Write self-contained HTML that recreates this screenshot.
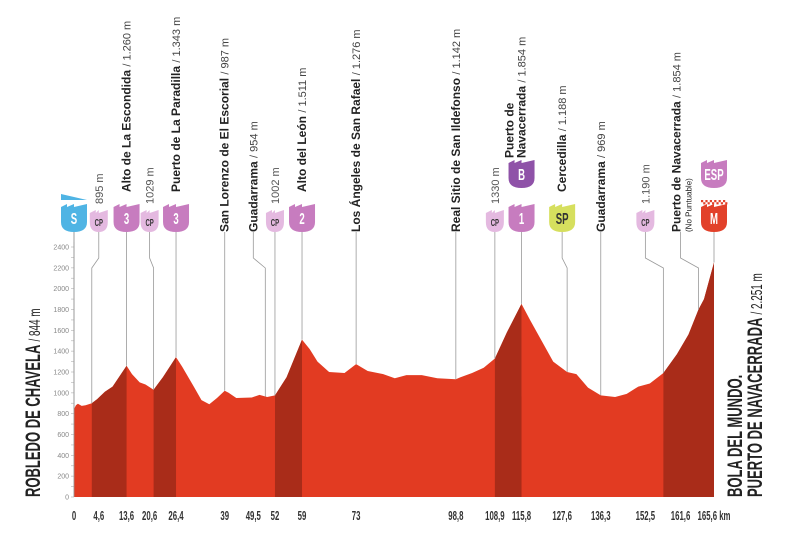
<!DOCTYPE html>
<html><head><meta charset="utf-8"><style>
html,body{margin:0;padding:0;background:#fff;}
svg{display:block;font-family:"Liberation Sans",sans-serif;}
</style></head><body>
<svg id="chart" width="800" height="541" viewBox="0 0 800 541">
<g id="axis"></g>
<g id="profile"></g>
<g id="marks"></g>
<g id="xaxis"></g>
<g transform="translate(40,497) rotate(-90)">
<text x="0" y="0" font-size="21" font-weight="bold" transform="scale(0.62,1)" fill="#222">ROBLEDO DE CHAVELA <tspan font-weight="normal" font-size="16">/ 844 m</tspan></text>
</g>
<g transform="translate(762,497) rotate(-90)">
<text x="0" y="-20" font-size="21" font-weight="bold" transform="scale(0.62,1)" fill="#222">BOLA DEL MUNDO.</text>
<text x="0" y="0" font-size="21" font-weight="bold" transform="scale(0.62,1)" fill="#222">PUERTO DE NAVACERRADA <tspan font-weight="normal" font-size="16">/ 2.251 m</tspan></text>
</g>
</svg>
<script>
const kms=[0,0.5,1,2,3,4.6,6,8,10,13.6,15,17,18.5,20.6,23,26.4,28,31,33,35,37,39,40,42,46,48,50,52,55,59,61,63,66,70,73,76,80,83,86,90,94,98.8,100,103,106,108.9,112,115.8,118,121,124,127.6,130,133,136.3,140,143,146,149,152.5,156,159,161.6,163,165.6];
const elevs=[844,880,895,875,880,900,940,1010,1060,1260,1180,1100,1080,1030,1150,1343,1250,1060,930,890,950,1020,1000,950,955,980,960,975,1150,1511,1420,1300,1200,1190,1276,1210,1180,1140,1170,1170,1140,1130,1150,1190,1240,1330,1580,1854,1700,1500,1300,1200,1180,1050,975,960,990,1060,1090,1190,1370,1560,1800,1900,2251];
const climbStart=[4.6,20.6,52,108.9,152.5];
const climbEnd=[13.6,26.4,59,115.8,165.6];
const tickKm=[0,4.6,13.6,20.6,26.4,39,49.5,52,59,73,98.8,108.9,115.8,127.6,136.3,152.5,161.6,165.6];
const tickText=["0","4,6","13,6","20,6","26,4","39","49,5","52","59","73","98,8","108,9","115,8","127,6","136,3","152,5","161,6","165,6 km"];
const yTicks=[0,200,400,600,800,1000,1200,1400,1600,1800,2000,2200,2400];
const mKm=[0,4.6,13.6,20.6,26.4,39,49.5,52,59,73,98.8,108.9,115.8,127.6,136.3,152.5,161.6,165.6];
const mShift=[0,7,0,-4,0,0,-12,0,0,0,0,0,0,-5,0,-18,-18,0];
const mBadge=["S","CP","3","CP","3","","","CP","2","","","CP","1","SP","","CP","","M"];
const mName=["","","Alto de La Escondida","","Puerto de La Paradilla","San Lorenzo de El Escorial","Guadarrama","","Alto del León","Los Ángeles de San Rafael","Real Sitio de San Ildefonso","","Navacerrada","Cercedilla","Guadarrama","","Puerto de Navacerrada",""];
const mAlt=["","895 m","1.260 m","1029 m","1.343 m","987 m","954 m","1002 m","1.511 m","1.276 m","1.142 m","1330 m","1.854 m","1.188 m","969 m","1.190 m","1.854 m",""];

const NS="http://www.w3.org/2000/svg";
const X0=74,X1=714,Y0=497,Y1=247;
const xs=k=>X0+(k/165.6)*(X1-X0);
const ys=e=>Y0-(e/2400)*(Y0-Y1);
function mk(tag,attrs,parent){const el=document.createElementNS(NS,tag);for(const a in attrs)el.setAttribute(a,attrs[a]);parent.appendChild(el);return el;}
function elevAt(k){for(let i=1;i<kms.length;i++){if(k<=kms[i]){const t=(k-kms[i-1])/(kms[i]-kms[i-1]);return elevs[i-1]+t*(elevs[i]-elevs[i-1]);}}return elevs[elevs.length-1];}

const ax=document.getElementById('axis');
let l=mk('line',{x1:X0,y1:Y1-5,x2:X0,y2:Y0,stroke:'#bbb','stroke-width':1},ax);


for(let v=0;v<=2400;v+=100){mk('line',{x1:X0-3,y1:ys(v),x2:X0,y2:ys(v),stroke:'#bbb','stroke-width':0.7},ax);}
yTicks.forEach(v=>{const t=mk('text',{x:69,y:ys(v)+2.5,'font-size':7,fill:'#888','text-anchor':'end'},ax);t.textContent=v;

});

const pr=document.getElementById('profile');
let d='M'+xs(0)+','+Y0;
kms.forEach((k,i)=>{d+=' L'+xs(k).toFixed(1)+','+ys(elevs[i]).toFixed(1);});
d+=' L'+xs(165.6)+','+Y0+' Z';
const area=mk('path',{d:d,fill:'#e23b22'},pr);


climbStart.forEach((s,j)=>{const e=climbEnd[j];let p='M'+xs(s)+','+Y0;
 kms.forEach((k,i)=>{if(k>=s&&k<=e)p+=' L'+xs(k).toFixed(1)+','+ys(elevs[i]).toFixed(1);});
 p+=' L'+xs(e)+','+Y0+' Z';
 const c=mk('path',{d:p,fill:'#a92c19'},pr);
 
 });

const mg=document.getElementById('marks');
const colors={"S":"#4fb4e4","CP":"#e4b9e0","1":"#c77cbf","2":"#c77cbf","3":"#c77cbf","SP":"#d6df5e","M":"#e2412a","ESP":"#c77cbf","B":"#8f52a8"};
function badge(cx,yb,type,txt,g){const small=type==="CP";const w=small?9:13,h=small?22:28;const y0=yb-h;
 const p=mk('path',{d:`M${cx-w},${y0+3} L${cx-w+6},${y0} L${cx-w+6},${y0+3} L${cx},${y0} L${cx},${y0+3} L${cx+w},${y0} L${cx+w},${y0+h-10} Q${cx+w},${yb} ${cx},${yb} Q${cx-w},${yb} ${cx-w},${y0+h-10} Z`,fill:colors[type]},g);
 
 
 const t=mk('text',{x:0,y:0,'font-size':small?10:16,'font-weight':'bold',fill:type==="CP"||type==="SP"?'#333':'#fff','text-anchor':'middle',transform:`translate(${cx},${yb-(small?6:8)}) scale(0.6,1)`},g);t.textContent=txt;}
mKm.forEach((k,i)=>{const g=mk('g',{},mg);
 
 
 const cx=xs(k)+mShift[i],px=xs(k),top=ys(elevAt(k));const yb=232;
 let ln;
 if(mShift[i]!==0){ln=`M${cx},${yb} L${cx},258 L${px},268 L${px},${top}`;}else ln=`M${cx},${yb} L${cx},${top}`;
 mk('path',{d:ln,stroke:'#999','stroke-width':0.8,fill:'none'},g);
 if(i===0){mk('line',{x1:cx,y1:yb,x2:cx,y2:Y0,stroke:'#999','stroke-width':0.8},g);}
 const b=mBadge[i];
 if(b){badge(cx,yb,b,b,g);}
 if(i===12){badge(cx,188,"B","B",g);}
 if(i===17){badge(cx,188,"ESP","ESP",g);
  for(let q=0;q<6;q++){mk('rect',{x:cx-13+q*4.4,y:200,width:2.2,height:2.2,fill:'#e2412a'},g);mk('rect',{x:cx-10.8+q*4.4,y:202.2,width:2.2,height:2.2,fill:'#e2412a'},g);}}
 if(i===0){mk('path',{d:`M${cx-13},194 L${cx+13},200 L${cx-13},200 Z`,fill:'#4fb4e4'},g);}
 const small=b==="CP";const bottom=i===12?158:(small?204:(b?192:232));
 const tg=mk('g',{transform:`translate(${cx+4},${bottom}) rotate(-90)`},g);
 if(i===12){const t1=mk('text',{x:0,y:-12,'font-size':12,'font-weight':'bold',fill:'#222'},tg);t1.textContent='Puerto de';
  const t2=mk('text',{x:0,y:0,'font-size':12,fill:'#222'},tg);
  const s1=mk('tspan',{'font-weight':'bold'},t2);s1.textContent='Navacerrada ';const s2=mk('tspan',{'font-size':11,fill:'#444'},t2);s2.textContent='/ 1.854 m';return;}
 if(i===16){const t1=mk('text',{x:0,y:-4,'font-size':12,fill:'#222'},tg);
  const s1=mk('tspan',{'font-weight':'bold'},t1);s1.textContent='Puerto de Navacerrada ';const s2=mk('tspan',{'font-size':11,fill:'#444'},t1);s2.textContent='/ 1.854 m';
  const t2=mk('text',{x:0,y:7,'font-size':8,fill:'#222'},tg);t2.textContent='(No Puntuable)';return;}
 const t=mk('text',{x:0,y:0,'font-size':12,fill:'#222'},tg);
 if(mName[i]){const s1=mk('tspan',{'font-weight':'bold'},t);s1.textContent=mName[i]+' ';const s2=mk('tspan',{'font-size':11,fill:'#444'},t);s2.textContent='/ '+mAlt[i];}
 else if(mAlt[i]){const s2=mk('tspan',{'font-size':11,fill:'#555'},t);s2.textContent=mAlt[i];}
});

const xg=document.getElementById('xaxis');
tickKm.forEach((k,i)=>{let x=xs(k);if(mShift[i])x+=mShift[i];
 const t=mk('text',{x:0,y:0,'font-size':13,'font-weight':'bold',fill:'#333','text-anchor':'middle',transform:`translate(${x},${520}) scale(0.6,1)`},xg);
 t.textContent=tickText[i];
 
 });
</script>
</body></html>
